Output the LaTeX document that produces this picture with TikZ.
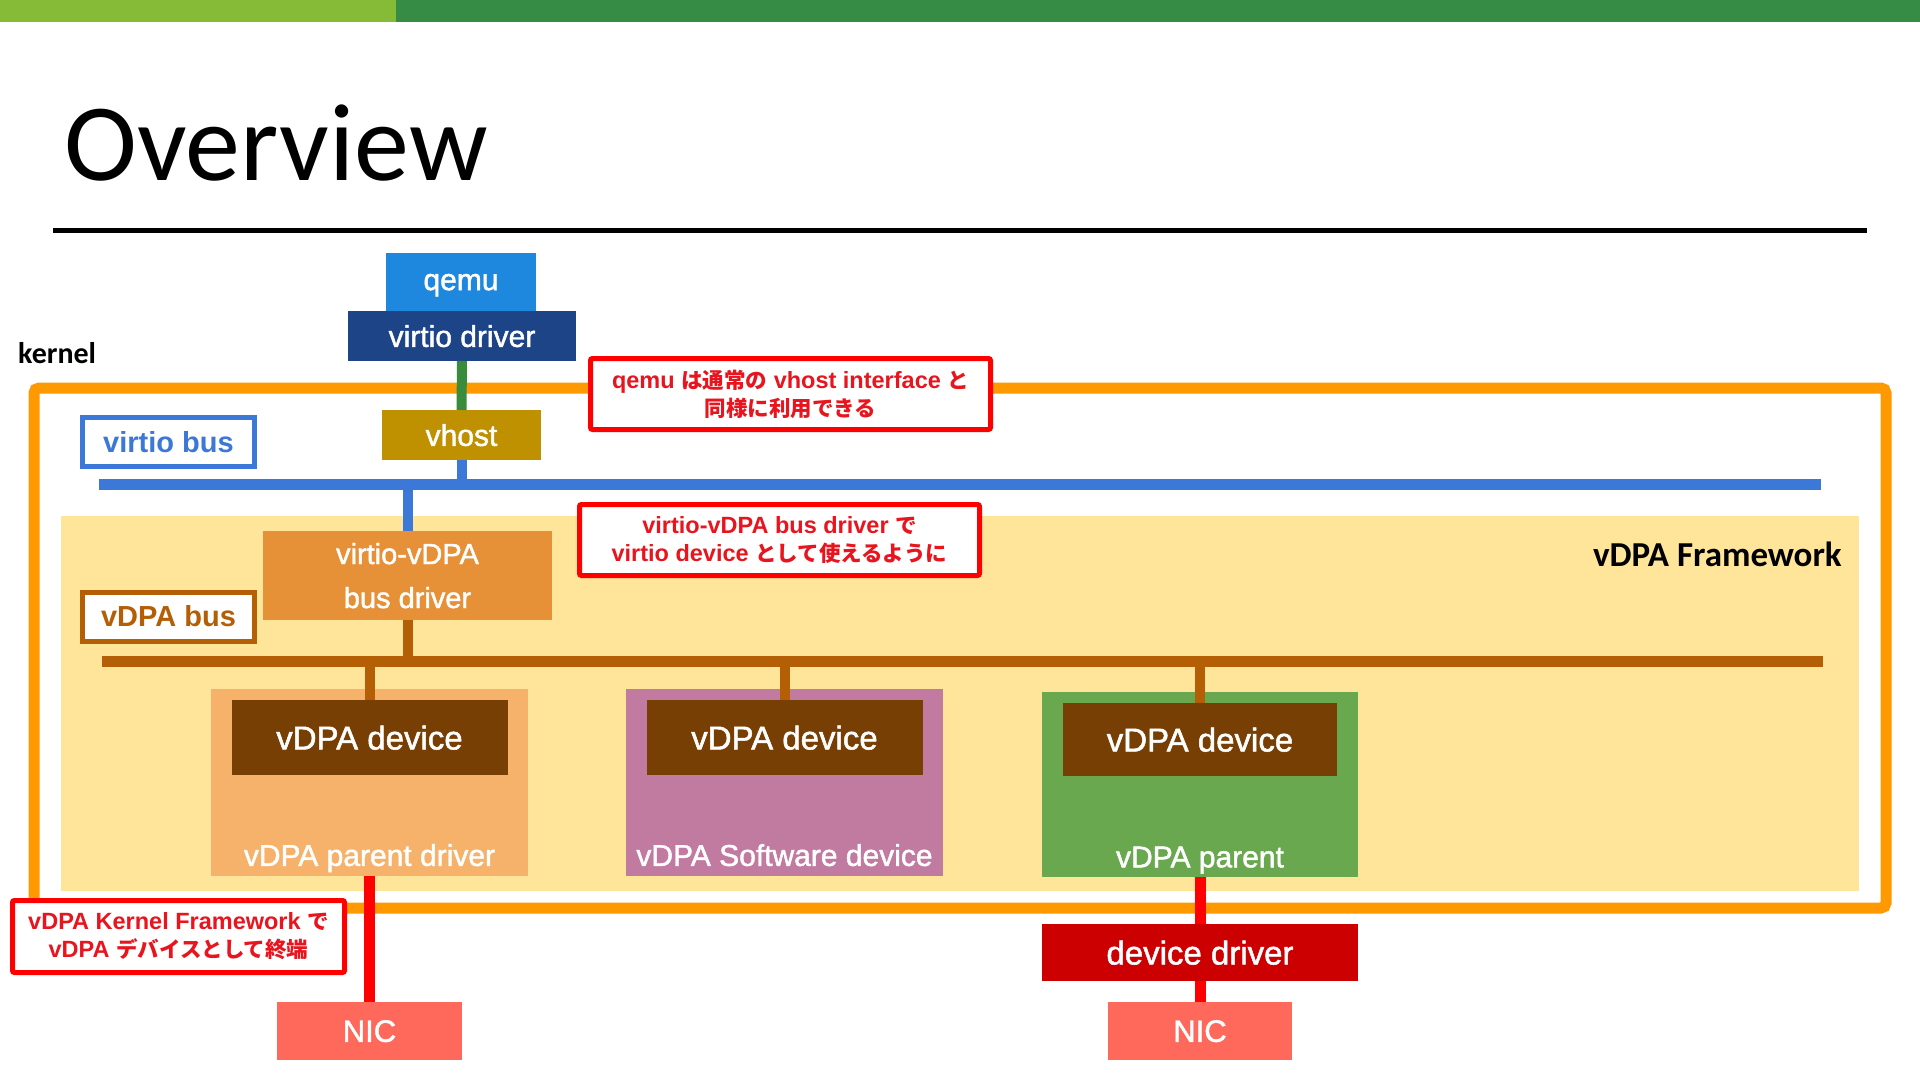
\documentclass[tikz,border=0pt]{standalone}
\usepackage{fontspec}
\setmainfont{Liberation Sans}
\newfontfamily\calibri{Carlito}
\newfontfamily\jp{Noto Sans CJK JP}
\newfontfamily\lbl[FakeBold=1.5]{Liberation Sans}
\newcommand\fsz[2]{\fontsize{#1pt}{#2pt}\selectfont}
\newcommand\jpt[1]{{\jp\fontsize{21.5pt}{28pt}\selectfont #1}}
\definecolor{barlight}{RGB}{133,187,54}
\definecolor{bardark}{RGB}{54,140,68}
\definecolor{qemublue}{RGB}{30,136,222}
\definecolor{vdrvblue}{RGB}{30,68,136}
\definecolor{linkgreen}{RGB}{56,140,60}
\definecolor{vhostgold}{RGB}{191,144,0}
\definecolor{busblue}{RGB}{60,120,216}
\definecolor{korange}{RGB}{255,153,0}
\definecolor{fwbg}{RGB}{255,229,153}
\definecolor{vvorange}{RGB}{230,145,56}
\definecolor{busbrown}{RGB}{180,95,6}
\definecolor{devbrown}{RGB}{120,63,4}
\definecolor{grpone}{RGB}{246,178,107}
\definecolor{grptwo}{RGB}{194,123,160}
\definecolor{grpthree}{RGB}{106,168,79}
\definecolor{linkred}{RGB}{255,0,0}
\definecolor{drvred}{RGB}{204,0,0}
\definecolor{nicred}{RGB}{255,105,92}
\definecolor{calltext}{RGB}{232,20,30}
\tikzset{
  box/.style={inner sep=0pt, outer sep=0pt, text=white, text depth=0pt, font=\lbl\fsz{30}{30}},
  bar/.style={inner sep=0pt, outer sep=0pt},
  buslabel/.style={draw=#1, text=#1, line width=5pt, fill=white, inner sep=0pt,
    minimum width=172pt, minimum height=49pt, font=\bfseries\fsz{29}{29}},
  callout/.style={draw=linkred, line width=5pt, fill=white, rounded corners=2pt,
    inner sep=0pt, align=center, text=calltext, font=\bfseries\fsz{23.5}{28}},
  link/.style={line width=10pt},
}
\begin{document}
\begin{tikzpicture}[x=1pt,y=-1pt]
\useasboundingbox (0,0) rectangle (1920,1081);
\fill[white] (0,0) rectangle (1920,1081);
% header
\fill[barlight] (0,0) rectangle (396,22);
\fill[bardark] (396,0) rectangle (1920,22);
\node[anchor=base west, inner sep=0pt, font=\calibri\fsz{110}{110}] (title) at (64,180) {Overview};
\fill[black] (53,227.5) rectangle (1867,232.5);
% kernel frame and framework
\node[bar, draw=korange, line width=11pt, rounded corners=5pt,
  minimum width=1852pt, minimum height=520pt] (kframe) at (960,648) {};
\node[bar, fill=fwbg, minimum width=1798pt, minimum height=375pt] (fw) at (960,703.5) {};
\node[anchor=base east, inner sep=0pt, font=\calibri\bfseries\fsz{35}{35}] (fwlabel) at (1842,566) {vDPA Framework};
\node[anchor=base west, inner sep=0pt, font=\calibri\bfseries\fsz{30}{30}] (klabel) at (18,363) {kernel};
% top stack
\node[box, fill=qemublue, minimum width=150pt, minimum height=58pt] (qemu) at (461,282) {qemu};
\node[box, fill=vdrvblue, minimum width=228pt, minimum height=50pt] (vdrv) at (462,336) {virtio driver};
\node[box, fill=vhostgold, minimum width=159pt, minimum height=50pt] (vhost) at (461.5,435) {vhost};
% virtio bus
\node[bar, fill=busblue, minimum width=1722pt, minimum height=11pt] (vbus) at (960,484) {};
\node[buslabel=busblue] (vbuslabel) at (168.5,442) {virtio bus};
% virtio-vDPA bus driver
\node[box, fill=vvorange, minimum width=289pt, minimum height=89pt, align=center,
  font=\lbl\fsz{29}{44}] (vvdpa) at (407.5,575.5) {virtio-vDPA\\bus driver};
% vDPA bus
\node[bar, fill=busbrown, minimum width=1721pt, minimum height=11pt] (dbus) at (962.5,661) {};
\node[buslabel=busbrown] (dbuslabel) at (168.5,616.5) {vDPA bus};
% device groups
\node[bar, fill=grpone, minimum width=317pt, minimum height=187pt] (g1) at (369.5,782.5) {};
\node[box, fill=devbrown, minimum width=276pt, minimum height=75pt, font=\lbl\fsz{33}{33}] (d1) at (369.5,737.5) {vDPA device};
\node[box] (l1) at (369.5,855) {vDPA parent driver};
\node[bar, fill=grptwo, minimum width=317pt, minimum height=187pt] (g2) at (784.5,782.5) {};
\node[box, fill=devbrown, minimum width=276pt, minimum height=75pt, font=\lbl\fsz{33}{33}] (d2) at (784.5,737.5) {vDPA device};
\node[box] (l2) at (784.5,855) {vDPA Software device};
\node[bar, fill=grpthree, minimum width=316pt, minimum height=185pt] (g3) at (1200,784.5) {};
\node[box, fill=devbrown, minimum width=274pt, minimum height=73pt, font=\lbl\fsz{33}{33}] (d3) at (1200,739.5) {vDPA device};
\node[box] (l3) at (1200,857) {vDPA parent};
% below kernel
\node[box, fill=drvred, minimum width=316pt, minimum height=57pt, font=\lbl\fsz{33}{33}] (ddrv) at (1200,952.5) {device driver};
\node[box, fill=nicred, minimum width=185pt, minimum height=58pt, font=\lbl\fsz{31}{31}] (nic1) at (369.5,1031) {NIC};
\node[box, fill=nicred, minimum width=184pt, minimum height=58pt, font=\lbl\fsz{31}{31}] (nic2) at (1200,1031) {NIC};
% connectors
\draw[link, linkgreen] (vdrv.south) -- (vhost.north);
\draw[link, busblue] (vhost.south) -- (vhost.south |- vbus.north);
\draw[link, busblue] (vbus.south -| vvdpa.north) -- (vvdpa.north);
\draw[link, busbrown] (vvdpa.south) -- (vvdpa.south |- dbus.north);
\draw[link, busbrown] (dbus.south -| d1.north) -- (d1.north);
\draw[link, busbrown] (dbus.south -| d2.north) -- (d2.north);
\draw[link, busbrown] (dbus.south -| d3.north) -- (d3.north);
\draw[link, linkred, line width=11pt] (g1.south) -- (nic1.north);
\draw[link, linkred, line width=11pt] (g3.south) -- (ddrv.north);
\draw[link, linkred, line width=11pt] (ddrv.south) -- (nic2.north);
% callouts
\node[callout, minimum width=400pt, minimum height=71pt] (c1) at (790.5,394)
  {qemu \jpt{は通常の} vhost interface \jpt{と}\\\jpt{同様に利用できる}};
\node[callout, minimum width=400pt, minimum height=71pt] (c2) at (779.5,540)
  {virtio-vDPA bus driver \jpt{で}\\virtio device \jpt{として使えるように}};
\node[callout, minimum width=332pt, minimum height=72pt] (c3) at (178.5,936.5)
  {vDPA Kernel Framework \jpt{で}\\vDPA \jpt{デバイスとして終端}};
\end{tikzpicture}
\end{document}
